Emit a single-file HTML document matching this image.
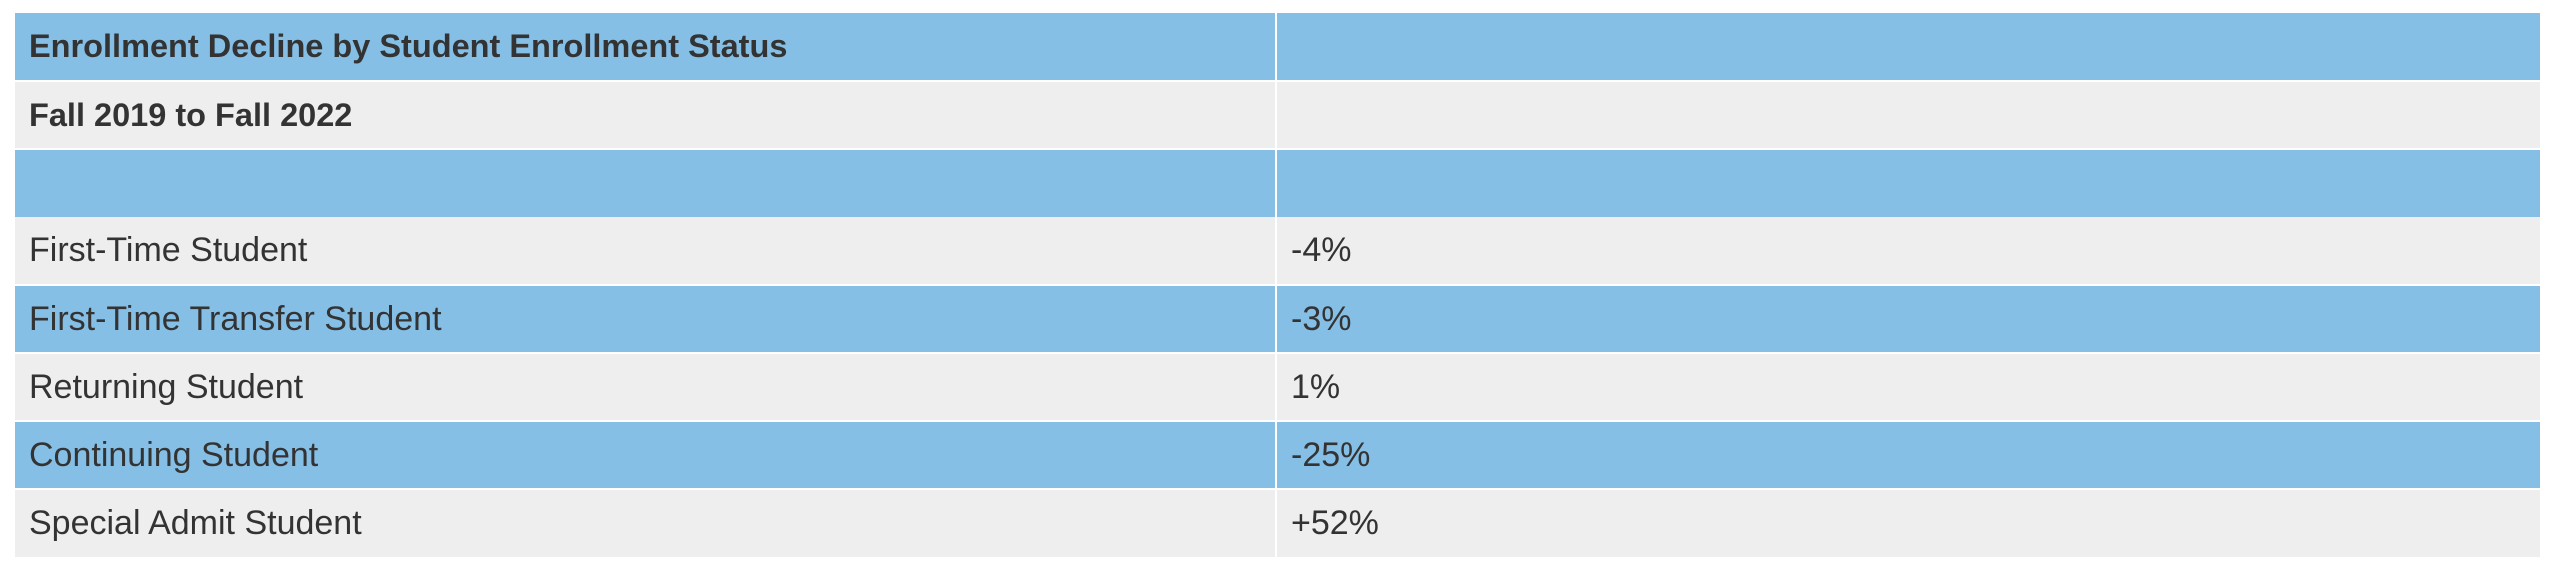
<!DOCTYPE html>
<html><head><meta charset="utf-8"><style>
html,body{margin:0;padding:0;width:2560px;height:580px;background:#fff;overflow:hidden}
table{position:absolute;left:15px;top:13px;width:2525px;border-collapse:collapse;table-layout:fixed;font-family:"Liberation Sans",sans-serif;color:#333}
td{height:68px;padding:0 0 0 14px;font-size:34px;box-sizing:border-box;border-top:2px solid #fff;vertical-align:middle;white-space:nowrap}
tr:first-child td{border-top:0}
td.c2{border-left:2px solid #fff;padding-left:14px}
tr.b td{background:#85bfe6}
tr.g td{background:#eeeeee}
.h td{font-weight:bold;font-size:32.5px}
</style></head><body>
<table>
<colgroup><col style="width:1261px"><col></colgroup>
<tr class="b h"><td>Enrollment Decline by Student Enrollment Status</td><td class="c2"></td></tr>
<tr class="g h"><td>Fall 2019 to Fall 2022</td><td class="c2"></td></tr>
<tr class="b"><td></td><td class="c2"></td></tr>
<tbody id="body"></tbody>
</table>
<script>
const categories=["First-Time Student","First-Time Transfer Student","Returning Student","Continuing Student","Special Admit Student"];
const values=["-4%","-3%","1%","-25%","+52%"];
const tb=document.getElementById('body');
categories.forEach((c,i)=>{
 const tr=document.createElement('tr');
 tr.className=i%2===0?'g':'b';
 
 
 const a=document.createElement('td');a.textContent=c;
 
 
 const b=document.createElement('td');b.className='c2';b.textContent=values[i];
 
 
 tr.appendChild(a);tr.appendChild(b);tb.appendChild(tr);
});
</script>
</body></html>
